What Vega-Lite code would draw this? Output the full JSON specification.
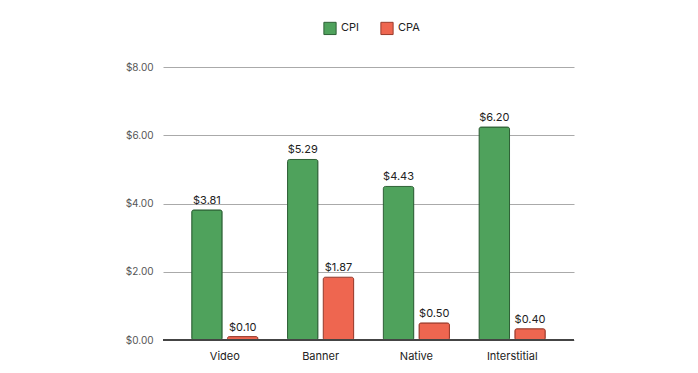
{
  "$schema": "https://vega.github.io/schema/vega-lite/v6.json",
  "autosize": {"type": "none"},
  "width": 411,
  "height": 273,
  "padding": {"left": 163, "top": 67, "right": 124, "bottom": 33},
  "background": "white",
  "config": {
    "font": "Inter, sans-serif",
    "view": {"stroke": null}
  },
  "data": {
    "values": [
      {"format": "Video", "metric": "CPI", "value": 3.81, "label": "$3.81"},
      {"format": "Video", "metric": "CPA", "value": 0.1, "label": "$0.10"},
      {"format": "Banner", "metric": "CPI", "value": 5.29, "label": "$5.29"},
      {"format": "Banner", "metric": "CPA", "value": 1.84, "label": "$1.87"},
      {"format": "Native", "metric": "CPI", "value": 4.5, "label": "$4.43"},
      {"format": "Native", "metric": "CPA", "value": 0.5, "label": "$0.50"},
      {"format": "Interstitial", "metric": "CPI", "value": 6.24, "label": "$6.20"},
      {"format": "Interstitial", "metric": "CPA", "value": 0.33, "label": "$0.40"}
    ]
  },
  "encoding": {
    "x": {
      "field": "format", "type": "nominal", "sort": ["Video", "Banner", "Native", "Interstitial"],
      "scale": {"paddingInner": 0.31, "paddingOuter": 0.3},
      "axis": {"title": null, "labelAngle": 0, "ticks": false, "domain": false, "labelFontSize": 11, "labelColor": "#222", "labelPadding": 10, "labelFont": "Inter"}
    },
    "xOffset": {"field": "metric", "type": "nominal", "sort": ["CPI", "CPA"], "scale": {"paddingInner": 0.15}},
    "y": {
      "field": "value", "type": "quantitative",
      "scale": {"domain": [0, 8]},
      "axis": {"title": null, "values": [0, 2, 4, 6, 8], "labelOverlap": false, "format": "$.2f", "ticks": false, "domain": false, "gridColor": "#aaaaaa", "labelColor": "#555", "labelFontSize": 10, "labelPadding": 10, "labelFont": "Inter"}
    }
  },
  "layer": [
    {
      "mark": {"type": "bar", "cornerRadius": 2, "strokeWidth": 1},
      "encoding": {
        "color": {
          "field": "metric", "type": "nominal",
          "scale": {"domain": ["CPI", "CPA"], "range": ["#4fa25c", "#ee6650"]},
          "legend": {
            "title": null, "orient": "none", "direction": "horizontal", "legendX": 160, "legendY": -46,
            "symbolType": "square", "symbolSize": 150, "symbolStrokeColor": "#333", "symbolStrokeWidth": 1,
            "labelFontSize": 11, "labelColor": "#222", "columnPadding": 18, "labelFont": "Inter"
          }
        },
        "stroke": {
          "field": "metric", "type": "nominal",
          "scale": {"domain": ["CPI", "CPA"], "range": ["#2e6136", "#9a3b2c"]},
          "legend": null
        }
      }
    },
    {
      "mark": {"type": "rule", "color": "#444", "strokeWidth": 1},
      "encoding": {"y": {"datum": 0}, "x": null, "xOffset": null}
    },
    {
      "mark": {"type": "text", "dy": -9, "fontSize": 11, "color": "#222", "font": "Inter"},
      "encoding": {"text": {"field": "label"}}
    }
  ]
}
